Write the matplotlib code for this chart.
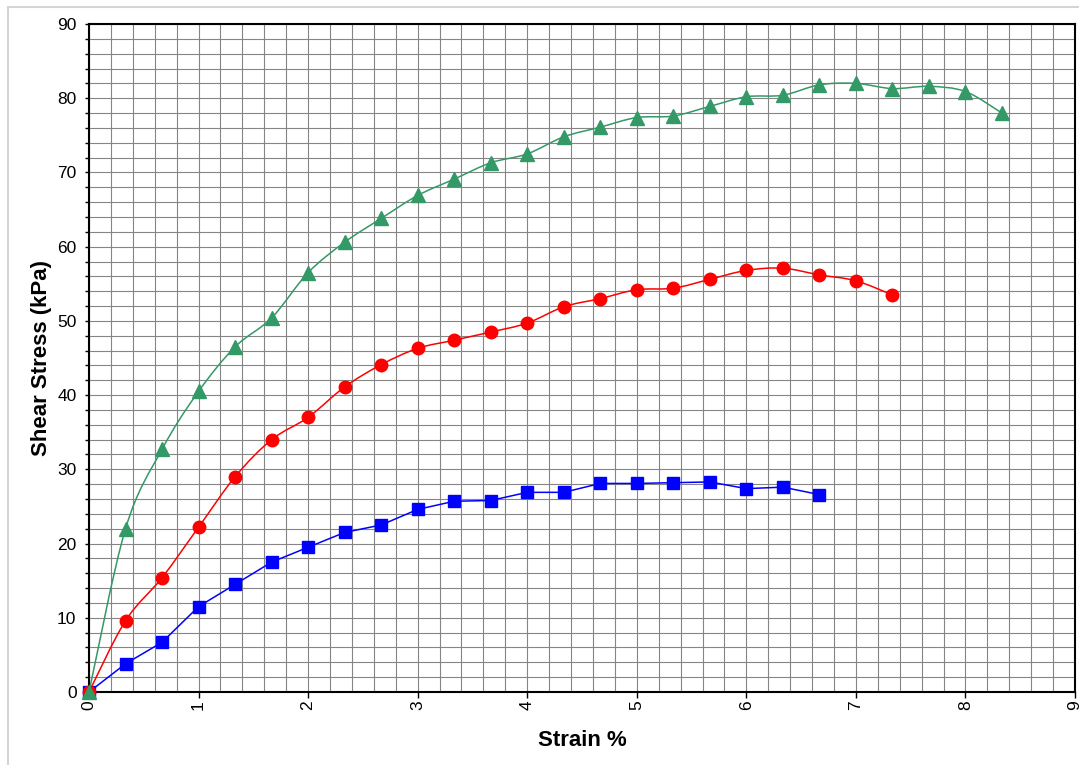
import numpy as np

import matplotlib
matplotlib.use('Agg')
import matplotlib.pyplot as plt
from matplotlib.path import Path
from matplotlib.patches import PathPatch, Rectangle
from matplotlib.ticker import MultipleLocator

matplotlib.rcParams['font.family'] = 'Liberation Sans'
matplotlib.rcParams['font.size'] = 12.5

# strain readings (every 1/3 %)
strain_blue  = np.arange(21) / 3.0
strain_red   = np.arange(23) / 3.0
strain_green = np.arange(26) / 3.0

stress_blue = [0.0, 3.8, 6.7, 11.5, 14.5, 17.5, 19.5, 21.5, 22.5, 24.6, 25.7,
               25.8, 26.9, 26.9, 28.1, 28.1, 28.2, 28.3, 27.4, 27.6, 26.6]
stress_red = [0.0, 9.6, 15.4, 22.2, 29.0, 34.0, 37.0, 41.1, 44.1, 46.3, 47.4,
              48.5, 49.7, 51.9, 53.0, 54.2, 54.4, 55.6, 56.8, 57.1, 56.2,
              55.4, 53.5]
stress_green = [0.0, 22.0, 32.7, 40.5, 46.5, 50.4, 56.5, 60.6, 63.8, 66.9,
                69.1, 71.3, 72.5, 74.8, 76.1, 77.4, 77.6, 78.9, 80.2, 80.4,
                81.8, 82.0, 81.3, 81.6, 80.9, 78.0]

x_ticks = list(range(0, 10))
y_ticks = list(range(0, 91, 10))


def smooth_path( x, y ):
    # excel style smoothed line: cubic bezier through the points
    P = np.column_stack([ x, y ])
    n = len(P)
    verts = [ P[0] ]
    codes = [ Path.MOVETO ]
    for i in range(n-1):
        p0 = P[max(i-1, 0)]
        p1 = P[i]
        p2 = P[i+1]
        p3 = P[min(i+2, n-1)]
        c1 = p1 + (p2 - p0) / 6.0
        c2 = p2 - (p3 - p1) / 6.0
        verts += [ c1, c2, p2 ]
        codes += [ Path.CURVE4 ] * 3
    return Path( verts, codes )


fig = plt.figure( figsize=(10.79, 7.65), dpi=100 )
ax = fig.add_axes([ 89/1079, 1-692/765, (1075-89)/1079, (692-24)/765 ])

# outer chart border (cropped on the right and bottom)
fig.patches.append( Rectangle( (7.5/1079, -0.1), 1.2, (765-7.5)/765 + 0.1,
                               transform=fig.transFigure, fill=False,
                               edgecolor='#d4d4d4', linewidth=1.5 ) )

ax.plot( strain_blue, stress_blue, color='#0000ff', lw=1.1, marker='s',
         ms=8.5, mec='#0000ff', zorder=3, clip_on=False )

ax.add_patch( PathPatch( smooth_path( strain_red, stress_red ), fill=False,
                         edgecolor='#ff0000', lw=1.1, zorder=4 ) )
ax.plot( strain_red, stress_red, ls='none', color='#ff0000', marker='o',
         ms=9, mec='#ff0000', zorder=4, clip_on=False )

ax.add_patch( PathPatch( smooth_path( strain_green, stress_green ), fill=False,
                         edgecolor='#339966', lw=1.1, zorder=5 ) )
ax.plot( strain_green, stress_green, ls='none', color='#339966', marker='^',
         ms=9.5, mec='#339966', zorder=5, clip_on=False )

ax.set_xlim( 0, 9 )
ax.set_ylim( 0, 90 )
ax.set_xticks( x_ticks )
ax.set_xticklabels( [str(t) for t in x_ticks], rotation=90 )
ax.set_yticks( y_ticks )
ax.xaxis.set_minor_locator( MultipleLocator(0.2) )
ax.yaxis.set_minor_locator( MultipleLocator(2) )

ax.grid( which='both', color='#858585', lw=0.8 )
ax.set_axisbelow( True )
ax.tick_params( axis='x', which='major', length=4, width=1, pad=2 )
ax.tick_params( axis='x', which='minor', length=0 )
ax.tick_params( axis='y', which='both', length=3, width=1, pad=6 )

for s in ax.spines.values():
    s.set_linewidth( 1.5 )
    s.set_color( 'black' )

ax.set_xlabel( 'Strain %', fontsize=16, fontweight='bold', labelpad=14 )
ax.set_ylabel( 'Shear Stress (kPa)', fontsize=16, fontweight='bold', labelpad=4 )

fig.savefig( 'out.png', dpi=100 )
